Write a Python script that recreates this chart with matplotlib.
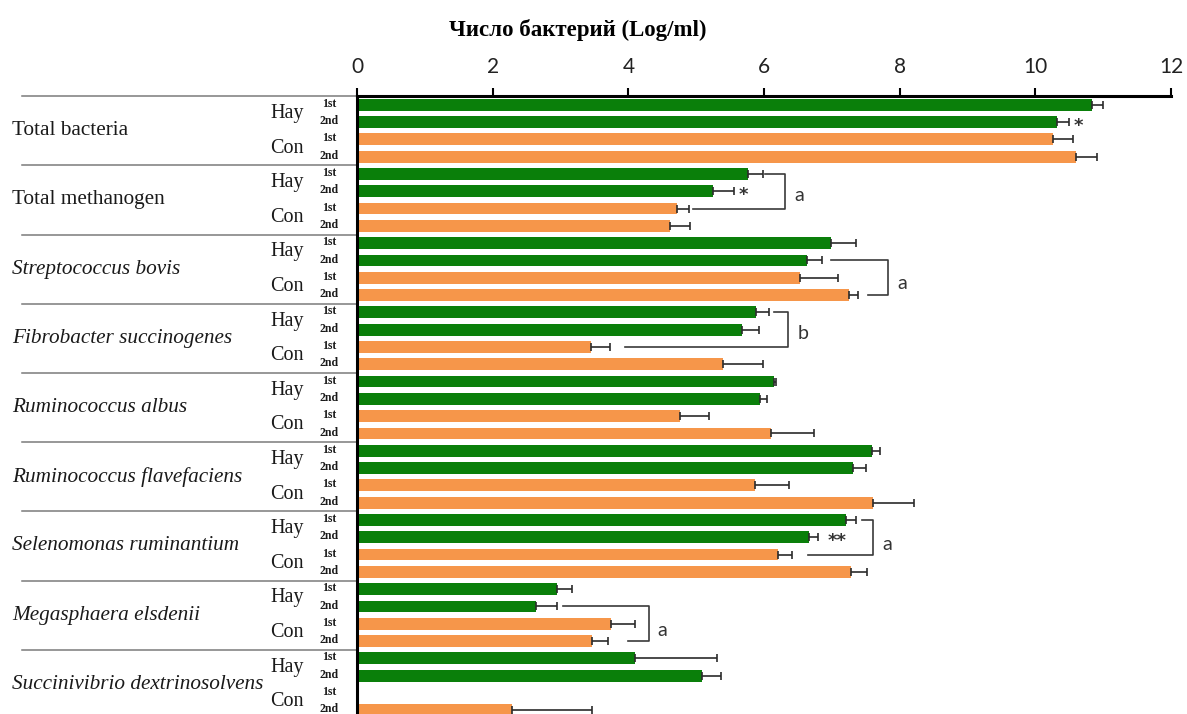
import numpy as np
import matplotlib
matplotlib.use("Agg")
import matplotlib.pyplot as plt
from matplotlib.transforms import blended_transform_factory

# Bacterial counts, log copies per ml
groups = ["Total bacteria", "Total methanogen", "Streptococcus bovis",
          "Fibrobacter succinogenes", "Ruminococcus albus",
          "Ruminococcus flavefaciens", "Selenomonas ruminantium",
          "Megasphaera elsdenii", "Succinivibrio dextrinosolvens"]
italic_group = [False, False, True, True, True, True, True, True, True]
diets = ["Hay", "Con"]
periods = ["1st", "2nd"]

hay_1st = [10.84, 5.77, 6.99, 5.88, 6.14, 7.59, 7.21, 2.95, 4.10]
hay_2nd = [10.32, 5.25, 6.64, 5.68, 5.94, 7.31, 6.66, 2.64, 5.08]
con_1st = [10.26, 4.71, 6.53, 3.45, 4.76, 5.87, 6.21, 3.74, np.nan]
con_2nd = [10.60, 4.62, 7.25, 5.40, 6.10, 7.61, 7.28, 3.46, 2.29]

hay_1st_err = [0.16, 0.22, 0.36, 0.19, 0.03, 0.12, 0.15, 0.22, 1.20]
hay_2nd_err = [0.17, 0.30, 0.21, 0.24, 0.11, 0.19, 0.14, 0.31, 0.28]
con_1st_err = [0.29, 0.18, 0.56, 0.28, 0.43, 0.50, 0.20, 0.36, np.nan]
con_2nd_err = [0.31, 0.29, 0.13, 0.59, 0.63, 0.60, 0.24, 0.24, 1.17]

x_ticks = [0, 2, 4, 6, 8, 10, 12]
x_title = "Число бактерий (Log/ml)"

GREEN = "#0a7f0a"
ORANGE = "#f6964a"
SERIF = "Liberation Serif"

# One row per bar: group by group, Hay 1st, Hay 2nd, Con 1st, Con 2nd
values = np.column_stack([hay_1st, hay_2nd, con_1st, con_2nd]).ravel()
errors = np.column_stack([hay_1st_err, hay_2nd_err, con_1st_err, con_2nd_err]).ravel()
colors = [GREEN, GREEN, ORANGE, ORANGE] * len(groups)
rows = np.arange(len(values))

fig = plt.figure(figsize=(11.87, 7.14), dpi=100)
ax = fig.add_axes([0.3008, -0.019, 0.6858, 0.8844])

ax.barh(rows, np.nan_to_num(values), height=0.68, color=colors, zorder=2)
ok = ~np.isnan(values)
ax.errorbar(values[ok], rows[ok],
            xerr=[np.zeros(ok.sum()), errors[ok]],
            fmt="none", ecolor="#2b2b2b", elinewidth=1.2, capsize=3.2,
            capthick=1.2, zorder=3)

ax.set_xlim(0, 12)
ax.set_ylim(36, -0.5)
ax.set_xticks(x_ticks)
ax.set_xticklabels([str(t) for t in x_ticks], family="Lato", fontsize=15,
                   color="#222222")
ax.xaxis.set_ticks_position("top")
ax.xaxis.set_label_position("top")
ax.tick_params(axis="x", direction="out", length=6, width=1.5, pad=8)
ax.set_yticks([])
for side in ("bottom", "right"):
    ax.spines[side].set_visible(False)
for side in ("top", "left"):
    ax.spines[side].set_linewidth(2.2)
    ax.spines[side].set_color("black")

fig.text(0.487, 0.958, x_title, ha="center", va="center", family=SERIF,
         fontweight="bold", fontsize=16.5)

# Row labels to the left of the axis
trans = blended_transform_factory(fig.transFigure, ax.transData)
x_sep0, x_axis = 22 / 1187, 357 / 1187
for g, name in enumerate(groups):
    base = g * 4
    ax.text(12 / 1187, base + 1.5, name, transform=trans, ha="left",
            va="center", family=SERIF, fontsize=15.3,
            style="italic" if italic_group[g] else "normal", color="#1a1a1a")
    for d, diet in enumerate(diets):
        ax.text(304 / 1187, base + 2 * d + 0.5, diet, transform=trans,
                ha="right", va="center", family=SERIF, fontsize=14.5,
                color="#1a1a1a")
        for p, per in enumerate(periods):
            ax.text(329 / 1187, base + 2 * d + p - 0.05, per, transform=trans,
                    ha="center", va="center", family=SERIF, fontsize=8.5,
                    fontweight="bold", color="#1a1a1a")
    ax.plot([x_sep0, x_axis], [base - 0.5, base - 0.5], transform=trans,
            color="#7a7a7a", lw=1.1, clip_on=False, zorder=1)

# Significance markers
stars = [(10.56, 1, "*"), (5.63, 5, "*"), (6.93, 25, "**")]
for x, r, s in stars:
    ax.text(x, r + 0.2, s, ha="left", va="center", fontsize=13,
            fontweight="bold", color="#333333", zorder=4)

# Brackets: (row_top, x_top_start, x_vertical, row_bottom, x_bottom_end, letter, letter_row)
brackets = [
    (4, 6.02, 6.31, 6, 4.95, "a", 5.25),
    (9, 6.98, 7.83, 11, 7.53, "a", 10.35),
    (12, 6.14, 6.36, 14, 3.95, "b", 13.2),
    (24, 7.44, 7.61, 26, 6.65, "a", 25.4),
    (29, 3.04, 4.30, 31, 4.00, "a", 30.4),
]
for r0, xs, xv, r1, xe, letter, lr in brackets:
    ax.plot([xs, xv, xv, xe], [r0, r0, r1, r1], color="#3a3a3a", lw=1.2,
            zorder=4, clip_on=False)
    ax.text(xv + 0.13, lr, letter, ha="left", va="center", family="Lato",
            fontsize=14, color="#333333")

fig.savefig("out.png", dpi=100)
